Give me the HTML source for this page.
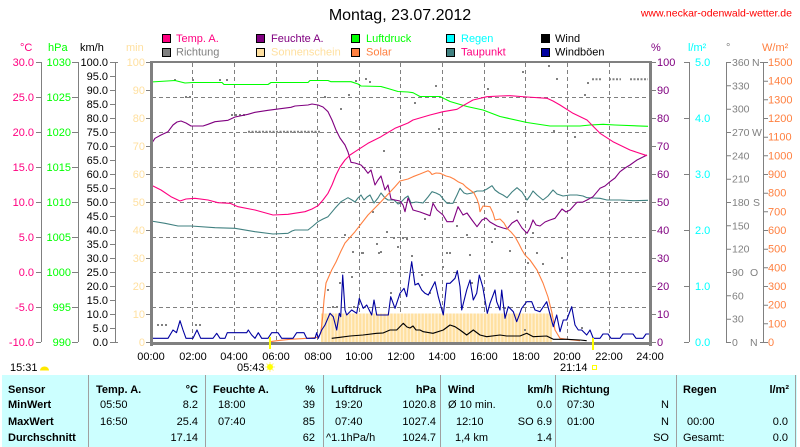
<!DOCTYPE html>
<html><head><meta charset="utf-8"><style>
html,body{margin:0;padding:0;background:#fff;}
svg{display:block;font-family:"Liberation Sans",Arial,sans-serif;}
</style></head><body>
<svg width="800" height="447" viewBox="0 0 800 447" xmlns="http://www.w3.org/2000/svg">
<defs>
<pattern id="sun" x="321" y="0" width="3.466" height="40" patternUnits="userSpaceOnUse">
<rect width="3.466" height="40" fill="#FFF3DA"/><rect width="2.3" height="40" fill="#FFE0A0"/>
</pattern>
</defs>
<rect width="800" height="447" fill="#fff"/>
<!-- Title -->
<text x="400" y="20" font-size="16" text-anchor="middle" fill="#000">Montag, 23.07.2012</text>
<text x="792" y="16.5" font-size="10.5" text-anchor="end" fill="#FF0000">www.neckar-odenwald-wetter.de</text>

<!-- Legend -->
<g font-size="11" stroke="#000" stroke-width="1">
<rect x="162.5" y="34.5" width="8" height="8" fill="#FF0080"/>
<rect x="256.5" y="34.5" width="8" height="8" fill="#800080"/>
<rect x="351.5" y="34.5" width="8" height="8" fill="#00FF00"/>
<rect x="446.5" y="34.5" width="8" height="8" fill="#00FFFF"/>
<rect x="541.5" y="34.5" width="8" height="8" fill="#000000"/>
<rect x="162.5" y="48.5" width="8" height="8" fill="#808080"/>
<rect x="256.5" y="48.5" width="8" height="8" fill="#FFE0A0"/>
<rect x="351.5" y="48.5" width="8" height="8" fill="#FF8040"/>
<rect x="446.5" y="48.5" width="8" height="8" fill="#408080"/>
<rect x="541.5" y="48.5" width="8" height="8" fill="#0000A0"/>
</g>
<g font-size="11">
<text x="176" y="42" fill="#FF0080">Temp. A.</text>
<text x="271" y="42" fill="#800080">Feuchte A.</text>
<text x="366" y="42" fill="#00FF00">Luftdruck</text>
<text x="461" y="42" fill="#00FFFF">Regen</text>
<text x="555" y="42" fill="#000">Wind</text>
<text x="176" y="55.5" fill="#808080">Richtung</text>
<text x="271" y="55.5" fill="#FFE0A0">Sonnenschein</text>
<text x="366" y="55.5" fill="#FF8040">Solar</text>
<text x="461" y="55.5" fill="#FF0080">Taupunkt</text>
<text x="555" y="55.5" fill="#000">Windböen</text>
</g>

<!-- Axis headers -->
<g font-size="11">
<text x="20" y="51" fill="#FF0080">°C</text>
<text x="48" y="51" fill="#00FF00">hPa</text>
<text x="80" y="51" fill="#000">km/h</text>
<text x="126" y="51" fill="#FFE0A0">min</text>
<text x="651" y="51" fill="#800080">%</text>
<text x="688" y="51" fill="#00FFFF">l/m²</text>
<text x="726" y="51" fill="#808080">°</text>
<text x="762" y="51" fill="#FF8040">W/m²</text>
</g>

<!-- Left axes lines & ticks -->
<g stroke="#808080" stroke-width="1" fill="none">
<path d="M41.5 62V342 M78.5 62V342 M115.5 62V342 M726.5 62V342 M763.5 62V342 M689.5 62V342"/>
<path d="M36 62.5H41 M36 97.5H41 M36 132.5H41 M36 167.5H41 M36 202.5H41 M36 237.5H41 M36 272.5H41 M36 307.5H41 M36 342.5H41"/>
<path d="M72 62.5H78 M72 97.5H78 M72 132.5H78 M72 167.5H78 M72 202.5H78 M72 237.5H78 M72 272.5H78 M72 307.5H78 M72 342.5H78"/>
<path d="M110 62.5H118 M110 76.5H115 M110 90.5H115 M110 104.5H115 M110 118.5H115 M110 132.5H115 M110 146.5H115 M110 160.5H115 M110 174.5H115 M110 188.5H115 M110 202.5H115 M110 216.5H115 M110 230.5H115 M110 244.5H115 M110 258.5H115 M110 272.5H115 M110 286.5H115 M110 300.5H115 M110 314.5H115 M110 328.5H115 M110 342.5H118"/>
<path d="M146 62.5H150 M146 90.5H150 M146 118.5H150 M146 146.5H150 M146 174.5H150 M146 202.5H150 M146 230.5H150 M146 258.5H150 M146 286.5H150 M146 314.5H150 M146 342.5H150"/>
<path d="M651 62.5H656 M651 90.5H656 M651 118.5H656 M651 146.5H656 M651 174.5H656 M651 202.5H656 M651 230.5H656 M651 258.5H656 M651 286.5H656 M651 314.5H656 M651 342.5H656"/>
<path d="M684 62.5H689 M684 118.5H689 M684 174.5H689 M684 230.5H689 M684 286.5H689 M684 342.5H689"/>
<path d="M726 62.5H731 M726 85.8H731 M726 109.2H731 M726 132.5H731 M726 155.8H731 M726 179.2H731 M726 202.5H731 M726 225.8H731 M726 249.2H731 M726 272.5H731 M726 295.8H731 M726 319.2H731 M726 342.5H731"/>
<path d="M760 62.5H768 M763 81.2H768 M763 99.8H768 M763 118.5H768 M763 137.2H768 M763 155.8H768 M763 174.5H768 M763 193.2H768 M763 211.8H768 M763 230.5H768 M763 249.2H768 M763 267.8H768 M763 286.5H768 M763 305.2H768 M763 323.8H768 M760 342.5H768"/>
</g>

<g font-size="11" fill="#FF0080" text-anchor="end">
<text x="34" y="66">30.0</text><text x="34" y="101">25.0</text><text x="34" y="136">20.0</text><text x="34" y="171">15.0</text><text x="34" y="206">10.0</text><text x="34" y="241">5.0</text><text x="34" y="276">0.0</text><text x="34" y="311">-5.0</text><text x="34" y="346">-10.0</text>
</g>
<g font-size="11" fill="#00FF00" text-anchor="end">
<text x="71" y="66">1030</text><text x="71" y="101">1025</text><text x="71" y="136">1020</text><text x="71" y="171">1015</text><text x="71" y="206">1010</text><text x="71" y="241">1005</text><text x="71" y="276">1000</text><text x="71" y="311">995</text><text x="71" y="346">990</text>
</g>
<g font-size="11" fill="#000" text-anchor="end">
<text x="108" y="66">100.0</text><text x="108" y="80">95.0</text><text x="108" y="94">90.0</text><text x="108" y="108">85.0</text><text x="108" y="122">80.0</text><text x="108" y="136">75.0</text><text x="108" y="150">70.0</text><text x="108" y="164">65.0</text><text x="108" y="178">60.0</text><text x="108" y="192">55.0</text><text x="108" y="206">50.0</text><text x="108" y="220">45.0</text><text x="108" y="234">40.0</text><text x="108" y="248">35.0</text><text x="108" y="262">30.0</text><text x="108" y="276">25.0</text><text x="108" y="290">20.0</text><text x="108" y="304">15.0</text><text x="108" y="318">10.0</text><text x="108" y="332">5.0</text><text x="108" y="346">0.0</text>
</g>
<g font-size="11" fill="#FFE0A0" text-anchor="end">
<text x="145" y="66">100</text><text x="145" y="94">90</text><text x="145" y="122">80</text><text x="145" y="150">70</text><text x="145" y="178">60</text><text x="145" y="206">50</text><text x="145" y="234">40</text><text x="145" y="262">30</text><text x="145" y="290">20</text><text x="145" y="318">10</text><text x="145" y="346">0</text>
</g>
<g font-size="11" fill="#800080">
<text x="657" y="66">100</text><text x="657" y="94">90</text><text x="657" y="122">80</text><text x="657" y="150">70</text><text x="657" y="178">60</text><text x="657" y="206">50</text><text x="657" y="234">40</text><text x="657" y="262">30</text><text x="657" y="290">20</text><text x="657" y="318">10</text><text x="657" y="346">0</text>
</g>
<g font-size="11" fill="#00FFFF">
<text x="695" y="66">5.0</text><text x="695" y="122">4.0</text><text x="695" y="178">3.0</text><text x="695" y="234">2.0</text><text x="695" y="290">1.0</text><text x="695" y="346">0.0</text>
</g>
<g font-size="10.5" fill="#808080">
<text x="732" y="66">360</text><text x="732" y="89.3">330</text><text x="732" y="112.7">300</text><text x="732" y="136">270</text><text x="732" y="159.3">240</text><text x="732" y="182.7">210</text><text x="732" y="206">180</text><text x="732" y="229.3">150</text><text x="732" y="252.7">120</text><text x="732" y="276">90</text><text x="732" y="299.3">60</text><text x="732" y="322.7">30</text><text x="732" y="346">0</text>
<text x="752" y="66">N</text><text x="752" y="136">W</text><text x="753" y="206">S</text><text x="750" y="276">O</text><text x="750" y="346">N</text>
</g>
<g font-size="11" fill="#FF8040">
<text x="768" y="66">1500</text><text x="768" y="84.7">1400</text><text x="768" y="103.3">1300</text><text x="768" y="122">1200</text><text x="768" y="140.7">1100</text><text x="768" y="159.3">1000</text><text x="768" y="178">900</text><text x="768" y="196.7">800</text><text x="768" y="215.3">700</text><text x="768" y="234">600</text><text x="768" y="252.7">500</text><text x="768" y="271.3">400</text><text x="768" y="290">300</text><text x="768" y="308.7">200</text><text x="768" y="327.3">100</text><text x="768" y="346">0</text>
</g>

<!-- Grid -->
<g stroke="#808080" stroke-width="1" stroke-dasharray="4 3" fill="none">
<path d="M152 97.5H649 M152 132.5H649 M152 167.5H649 M152 202.5H649 M152 237.5H649 M152 272.5H649 M152 307.5H649"/>
<path d="M192.5 63V342 M234.5 63V342 M276.5 63V342 M317.5 63V342 M359.5 63V342 M400.5 63V342 M442.5 63V342 M484.5 63V342 M525.5 63V342 M567.5 63V342 M609.5 63V342"/>
</g>

<!-- Sunshine bars -->
<rect x="321" y="313.5" width="231" height="28.5" fill="url(#sun)"/>

<!-- Direction scatter -->
<g fill="#808080">
<path d="M157 324h2v2h-2z M161 324h2v2h-2z M165 324h2v2h-2z M195 324h2v2h-2z M199 324h2v2h-2z
M174 79h2v2h-2z M192 79h2v2h-2z M219 79h2v2h-2z M226 79h2v2h-2z M185 96h2v2h-2z M189 96h2v2h-2z
M231 114h2v2h-2z M235 114h2v2h-2z M239 114h2v2h-2z M243 114h2v2h-2z
M324 96h2v2h-2z M340 108h2v2h-2z M348 94h2v2h-2z M355 80h2v2h-2z M365 78h2v2h-2z M369 81h2v2h-2z M383 150h2v2h-2z M344 234h2v2h-2z M362 252h2v2h-2z M372 211h2v2h-2z M376 243h2v2h-2z M380 251h2v2h-2z M386 231h2v2h-2z M393 237h2v2h-2z M397 246h2v2h-2z M399 171h2v2h-2z M402 237h2v2h-2z M406 238h2v2h-2z
M414 102h2v2h-2z M435 85h2v2h-2z M438 128h2v2h-2z M424 218h2v2h-2z M456 225h2v2h-2z M466 234h2v2h-2z M449 252h2v2h-2z M487 88h2v2h-2z M491 241h2v2h-2z M494 228h2v2h-2z M517 211h2v2h-2z M522 71h2v2h-2z M532 232h2v2h-2z M548 65h2v2h-2z M553 130h2v2h-2z M556 78h2v2h-2z M574 136h2v2h-2z M584 94h2v2h-2z M587 82h2v2h-2z M509 250h2v2h-2z M536 252h2v2h-2z
M352 251h2v2h-2z M361 252h2v2h-2z M378 252h2v2h-2z M339 282h2v2h-2z M327 289h2v2h-2z M332 306h2v2h-2z M351 276h2v2h-2z M390 292h2v2h-2z M353 306h2v2h-2z M336 306h2v2h-2z M411 255h2v2h-2z M421 274h2v2h-2z M442 266h2v2h-2z M446 252h2v2h-2z M469 254h2v2h-2z M471 282h2v2h-2z M527 262h2v2h-2z M542 263h2v2h-2z M561 257h2v2h-2z M504 307h2v2h-2z M524 329h2v2h-2z M581 327h2v2h-2z M429 292h2v2h-2z"/>
</g>
<g stroke="#808080" stroke-width="2" stroke-dasharray="2 1.5" fill="none">
<path d="M248 131.7H321"/>
<path d="M592 79.3H601 M609 79.3H621 M630 79.3H648"/>
</g>

<!-- Series -->
<g fill="none" stroke-width="1.1" stroke-linejoin="round">
<polyline stroke="#00FF00" points="151,82 175,80.5 185,83 193,82.5 222,82.5 224,84.5 268,84.5 271,82.5 308,82.5 310,80.5 328,80.5 331,81.7 351,81.7 358,84 361,86 381,86.5 388,88.5 398,91.5 408,92 413,92.7 420,96.5 440,96.5 450,101.5 467,106.5 483,110 500,116.5 527,122.5 550,126 580,126 590,125 603,124.3 615,125 648,126.3"/>
<polyline stroke="#408080" points="151,221 165,223.3 178,226 191,226 215,227.7 235,228.3 255,231.7 273,234 288,233.3 292,231 295,230 308,230 313,226 318,221.7 323,219 328,216.7 335,208.3 341,201.7 348,197.7 352,200 355,202 358,198 361,195 364,200 367,197 370,195 374,203 378,198 381,193 385,198 388,200 394,200 398,204 400,203.3 405,198 408,196 411,203 416,202 423,203 428,197 432,191.7 436,193 440,195 444,200 447,203.3 453,203.3 457,195 460,188.3 464,193 467,194 472,193 477,191 483,191 487,189 492,185.7 495,190 499,193 503,195 507,197.7 512,192 517,187.7 522,192 527,200 530,196 533,191 537,195 543,200 548,196 553,190 557,194 563,196 570,195 577,195 583,196 587,197.7 593,198 600,198.3 607,200 620,200 633,200.7 648,200.3"/>
<polyline stroke="#800080" points="151,144.3 155,138.3 161,135 168,131.7 173,125 177,122 181,121 186,123 191,126 203,126 208,124.3 215,121.7 228,120.3 235,117 248,114.3 255,112.3 268,110.3 291,107.3 295,106 308,105 312,104 318,105 323,107 328,111.7 332,120 336,130 340,138 345,145 348,152 351,162.3 355,163 361,165 364,168 368,173.3 371,170 375,185 378,180 381,176 385,190 388,185 391,199 395,200 400,201 403,205 405,211.7 408,198 411,205 413,210 420,212 430,215.7 433,203.3 437,210 443,215 447,221.7 453,221.7 458,206.7 463,215 467,213 472,220 477,226.7 482,220 486,218 490,222 497,226 503,228 507,229 512,223 517,220 522,228 527,233.3 530,228 533,220 536,225 540,226 545,222 550,220 555,218.3 559,213 562,209 566,212 570,210 577,202.3 583,202 587,200 593,196.7 600,188.3 605,186 610,181.7 615,178 620,171.7 625,168 630,165 637,160 647,155"/>
<polyline stroke="#FF0080" points="151,185 161,190 171,196.7 180,201 186,199 195,198.3 208,200 218,202.7 230,203.3 238,206.7 255,210 273,215 288,214.3 305,211.7 312,209 318,205.7 323,200 328,193.3 332,185 336,175 340,167 345,160 350,155 355,151.7 368,143.3 381,136.7 395,128.3 408,123 413,120 430,115 443,111.7 457,109.3 463,105.7 473,100 487,96.7 500,96 510,95.7 527,97 547,98.3 553,101 560,105 573,113.3 587,120 600,133.3 613,141.7 630,150 647,155.7"/>
<polyline stroke="#FF8040" points="270,341.7 277,340.7 290,339.3 307,338.3 318,337.3 320.7,333.3 322.7,316.7 324,300 326,283 331.7,270 336,262 341,251 345,243 355,231.7 368,215 381,201.7 395,186.7 400,181 408,179 413,176.7 420,174 428,170.7 430,172 432,174.5 436,173 440,173.3 446,176 450,177 454,179 458,181.7 463,184 466,187 470,190 474,193 477,199 479,205 480,211.7 483,206 490,206.7 493,213 495,220 500,219 504,223 507,228.3 511,232 515,236.7 519,244 522,250 525,255 530,260 537,270 543,283 548,297 552,313 555,330 560,338.3 567,339.3 580,340.7"/>
<polyline stroke="#0000A0" points="151,338.3 168,338.3 173,330 176.5,332.7 180,320.7 183,330 186,338.3 193,338.3 197,330 200.7,338.3 213,338.3 216.7,333.3 220,338.3 225,338.3 227.3,332.7 246.7,332.7 248.3,330 251.7,335 255,338.3 258.3,332.7 261.7,338.3 268,338.3 271.7,332.7 278,332.7 281.7,338.3 293,338.3 296.7,332.7 304,332.7 306.7,338.3 315,338.3 316.7,332.7 318.3,338.3 321.7,330 325,325 330,313.3 333.3,316.7 336.7,330 339.3,313.3 340.7,316.7 342.7,275 345,310 346.7,315 351.7,310 356.7,313.3 359.3,298.3 363.3,308.3 366.7,305 371.7,315 374,300 376.7,315 388.3,315 390.7,296.7 395,308.3 400,293.3 404,288.3 406.7,296.7 411.7,261.7 415,285 418.3,283.3 421.7,290 425,293.3 428.3,295 435,281.7 438.3,296.7 443.3,315 446.7,283.3 450,283.3 455,278.3 457.3,270.7 460,286.7 461.7,310 466.7,290 470,280 473.3,300 476.7,293.3 479.3,275 482.7,286.7 485,300 487.3,313.3 490,303.3 495,290 496.7,301.7 500,310 501.7,290 505,318.3 508.3,306.7 513.3,311.7 516.7,321.7 521.7,308.3 526.7,301.7 531.7,301.7 535,310 540,311.7 546.7,301.7 549.3,311.7 553.3,326.7 556.7,315 560,331.7 563.3,320 566.7,320 571.7,306.7 575,325 578.3,330 581.7,330 586.7,335 590,330 593.3,338.3 600,338.3 603,334 608,334 611,338.3 620,338.3 623,334 633,334 636,338.3 643,338.3 646,334 649,334"/>
<polyline stroke="#000000" points="331.7,338.3 340,337.3 350,336 363,335 376.7,333.3 383,333 390,330 396.7,330 403.3,323.3 407,327 410,328 413,326 416,330 420,330 423.3,331.7 433,333.3 443.3,330 450,325 455,326.7 460,330 466.7,335 473.3,330 480,335 486.7,336.7 500,335 506.7,336 520,336 526.7,333.3 533.3,336.7 546.7,336 553.3,339.3 566.7,339.3 580,340 586.7,340.7"/>
</g>

<!-- Plot frame -->
<g fill="#808080">
<rect x="150" y="61" width="502" height="2"/>
<rect x="150" y="61" width="3" height="285"/>
<rect x="649" y="61" width="3" height="285"/>
<rect x="150" y="342" width="502" height="3"/>
</g>

<!-- X labels -->
<g font-size="11" fill="#000" text-anchor="middle">
<text x="151" y="360">00:00</text><text x="193" y="360">02:00</text><text x="234" y="360">04:00</text><text x="276" y="360">06:00</text><text x="318" y="360">08:00</text><text x="359" y="360">10:00</text><text x="401" y="360">12:00</text><text x="442" y="360">14:00</text><text x="484" y="360">16:00</text><text x="526" y="360">18:00</text><text x="567" y="360">20:00</text><text x="609" y="360">22:00</text><text x="650" y="360">24:00</text>
</g>

<!-- Sun markers -->
<rect x="269" y="337" width="2" height="12" fill="#FFFF00"/>
<rect x="592" y="338" width="2" height="12" fill="#FFFF00"/>
<g font-size="11" fill="#000">
<text x="10" y="371">15:31</text>
<text x="237" y="371">05:43</text>
<text x="560" y="371">21:14</text>
</g>
<path d="M40 370.5A4.5 4 0 0 1 49 370.5Z" fill="#FFE800"/>
<g stroke="#FFF080" stroke-width="1"><path d="M265 367H275 M270 362V372 M266.5 363.5L273.5 370.5 M273.5 363.5L266.5 370.5"/></g>
<circle cx="270" cy="367" r="3" fill="#FFFF00"/>
<rect x="592.5" y="365.5" width="4" height="4" fill="#fff" stroke="#FFFF00" stroke-width="1"/>

<!-- Table -->
<rect x="2" y="375" width="795" height="72" fill="#CCFFFF"/>
<g fill="#A0A0A0">
<rect x="88" y="375" width="1" height="72"/>
<rect x="205" y="375" width="1" height="72"/>
<rect x="323" y="375" width="1" height="72"/>
<rect x="440" y="375" width="1" height="72"/>
<rect x="555" y="375" width="1" height="72"/>
<rect x="676" y="375" width="1" height="72"/>
<rect x="795" y="375" width="1" height="72"/>
</g>
<g font-size="11" fill="#000">
<g font-weight="bold">
<text x="8" y="393">Sensor</text><text x="8" y="408">MinWert</text><text x="8" y="425">MaxWert</text><text x="8" y="441">Durchschnitt</text>
<text x="96" y="393">Temp. A.</text><text x="198" y="393" text-anchor="end">°C</text>
<text x="213" y="393">Feuchte A.</text><text x="315" y="393" text-anchor="end">%</text>
<text x="331" y="393">Luftdruck</text><text x="436" y="393" text-anchor="end">hPa</text>
<text x="448" y="393">Wind</text><text x="553" y="393" text-anchor="end">km/h</text>
<text x="562" y="393">Richtung</text>
<text x="683" y="393">Regen</text><text x="789" y="393" text-anchor="end">l/m²</text>
</g>
<text x="100" y="408">05:50</text><text x="198" y="408" text-anchor="end">8.2</text>
<text x="100" y="425">16:50</text><text x="198" y="425" text-anchor="end">25.4</text>
<text x="198" y="441" text-anchor="end">17.14</text>
<text x="218" y="408">18:00</text><text x="315" y="408" text-anchor="end">39</text>
<text x="218" y="425">07:40</text><text x="315" y="425" text-anchor="end">85</text>
<text x="315" y="441" text-anchor="end">62</text>
<text x="335" y="408">19:20</text><text x="436" y="408" text-anchor="end">1020.8</text>
<text x="335" y="425">07:40</text><text x="436" y="425" text-anchor="end">1027.4</text>
<text x="326" y="441">^1.1hPa/h</text><text x="436" y="441" text-anchor="end">1024.7</text>
<text x="448" y="408">Ø 10 min.</text><text x="552" y="408" text-anchor="end">0.0</text>
<text x="456" y="425">12:10</text><text x="552" y="425" text-anchor="end">SO 6.9</text>
<text x="455" y="441">1,4 km</text><text x="552" y="441" text-anchor="end">1.4</text>
<text x="567" y="408">07:30</text><text x="669" y="408" text-anchor="end">N</text>
<text x="567" y="425">01:00</text><text x="669" y="425" text-anchor="end">N</text>
<text x="669" y="441" text-anchor="end">SO</text>
<text x="687" y="425">00:00</text><text x="788" y="425" text-anchor="end">0.0</text>
<text x="683" y="441">Gesamt:</text><text x="788" y="441" text-anchor="end">0.0</text>
</g>
</svg>
</body></html>
